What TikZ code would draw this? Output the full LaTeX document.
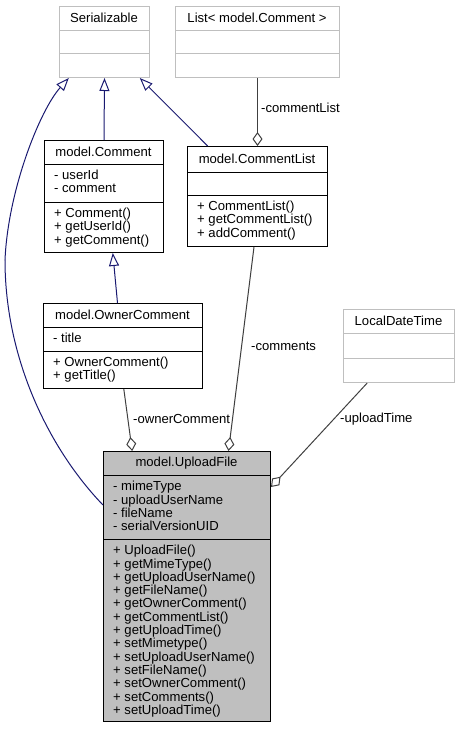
\documentclass[tikz,border=0pt]{standalone}
\usepackage{fontspec}
\setmainfont{Liberation Sans}
\usetikzlibrary{arrows.meta}
\definecolor{edgegray}{HTML}{BFBFBF}
\definecolor{fillgray}{HTML}{BFBFBF}
\definecolor{inhblue}{HTML}{191970}
\definecolor{aggray}{HTML}{404040}
\tikzset{
  txt/.style={font=\fontsize{13.1}{13.3}\selectfont, inner sep=0pt},
  mem/.style={txt, align=left, anchor=north west},
  box/.style={draw=black, line width=1pt, anchor=north west, inner sep=0pt},
  extbox/.style={box, draw=edgegray},
  inh/.style={draw=inhblue, line width=1pt, -{Triangle[open, length=13pt, width=10pt, line width=1pt]}},
  agg/.style={draw=aggray, line width=1pt, -{Diamond[open, length=14pt, width=10pt, line width=1pt, fill=white]}},
  lbl/.style={txt, anchor=west},
}
\begin{document}
\begin{tikzpicture}[x=1pt, y=-1pt]
\useasboundingbox (0,0) rectangle (459,729);

% Serializable
\node[extbox, minimum width=90pt, minimum height=71pt] (ser) at (59,6) {};
\draw[edgegray, line width=1pt] (59,30) -- (149,30) (59,53) -- (149,53);
\node[txt] (sert) at (104,18) {Serializable};

% List< model.Comment >
\node[extbox, minimum width=164pt, minimum height=71pt] (lst) at (175,6) {};
\draw[edgegray, line width=1pt] (175,30) -- (339,30) (175,53) -- (339,53);
\node[txt] (lstt) at (257,18) {List< model.Comment >};

% model.Comment
\node[box, minimum width=119pt, minimum height=112pt] (comm) at (44,140) {};
\draw[line width=1pt] (44,164) -- (163,164) (44,202) -- (163,202);
\node[txt] (commt) at (103.5,152) {model.Comment};
\node[mem] (comma) at (54,170) {- userId\\- comment};
\node[mem] (commm) at (54,208) {+ Comment()\\+ getUserId()\\+ getComment()};

% model.CommentList
\node[box, minimum width=140pt, minimum height=100pt] (clist) at (187,146) {};
\draw[line width=1pt] (187,172) -- (327,172) (187,195) -- (327,195);
\node[txt] (clistt) at (257,159) {model.CommentList};
\node[mem] (clistm) at (197,201) {+ CommentList()\\+ getCommentList()\\+ addComment()};

% model.OwnerComment
\node[box, minimum width=159pt, minimum height=85pt] (owner) at (43,303) {};
\draw[line width=1pt] (43,327) -- (202,327) (43,351) -- (202,351);
\node[txt] (ownert) at (122.5,315) {model.OwnerComment};
\node[mem] (ownera) at (53,333) {- title};
\node[mem] (ownerm) at (53,357) {+ OwnerComment()\\+ getTitle()};

% LocalDateTime
\node[extbox, minimum width=111pt, minimum height=73pt] (ldt) at (343,309) {};
\draw[edgegray, line width=1pt] (343,333) -- (454,333) (343,358) -- (454,358);
\node[txt] (ldtt) at (398.5,321) {LocalDateTime};

% model.UploadFile
\node[box, fill=fillgray, minimum width=167pt, minimum height=270pt] (ufile) at (103,451) {};
\draw[line width=1pt] (103,475) -- (270,475) (103,539) -- (270,539);
\node[txt] (ufilet) at (186.5,463) {model.UploadFile};
\node[mem] (ufilea) at (113,481) {- mimeType\\- uploadUserName\\- fileName\\- serialVersionUID};
\node[mem] (ufilem) at (113,545) {+ UploadFile()\\+ getMimeType()\\+ getUploadUserName()\\+ getFileName()\\+ getOwnerComment()\\+ getCommentList()\\+ getUploadTime()\\+ setMimetype()\\+ setUploadUserName()\\+ setFileName()\\+ setOwnerComment()\\+ setComments()\\+ setUploadTime()};

% inheritance
\draw[inh] (comm.north) -- (ser.south);
\draw[inh] ([xshift=20.7pt]clist.north west) -- ([xshift=35.3pt]ser.south);
\draw[inh] ([yshift=-54pt]ufile.north west) .. controls (50,450) and (5,360) .. (5,260)
   .. controls (8,190) and (40,110) .. ([xshift=-35.7pt]ser.south);
\draw[inh] ([xshift=-5.5pt]owner.north) -- ([xshift=8.8pt]comm.south);

% aggregation
\draw[agg] (lst.south) -- (clist.north);
\draw[agg] ([xshift=-3.5pt]clist.south) -- ([xshift=41.5pt]ufile.north);
\draw[agg] ([xshift=0.8pt]owner.south) -- ([xshift=-54.8pt]ufile.north);
\draw[agg] ([xshift=-31.8pt]ldt.south) -- ([yshift=-36pt]ufile.north east);

% labels
\node[lbl] (l1) at (261,108) {-commentList};
\node[lbl] (l2) at (251,346) {-comments};
\node[lbl] (l3) at (133,419) {-ownerComment};
\node[lbl] (l4) at (340,419) {-uploadTime};
\end{tikzpicture}
\end{document}
